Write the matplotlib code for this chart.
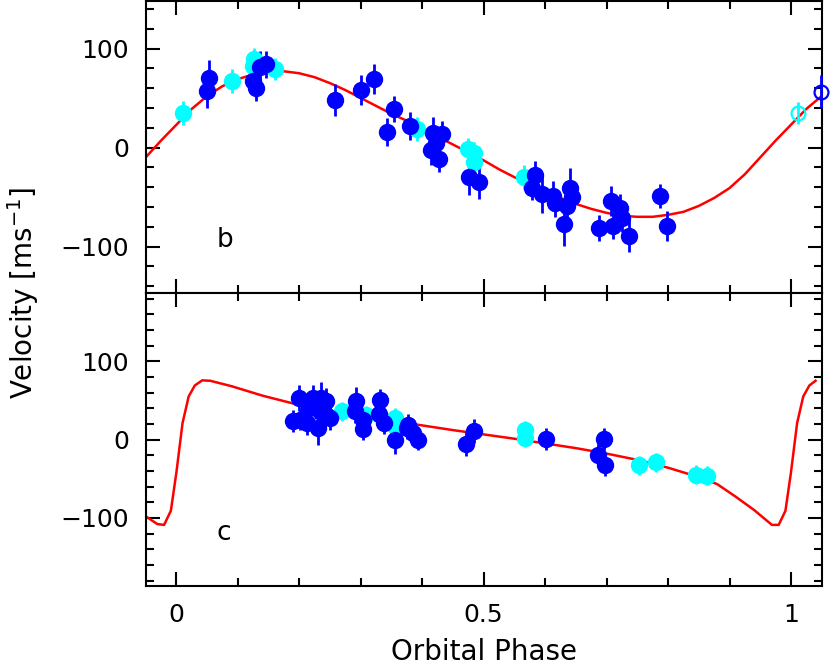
import matplotlib
matplotlib.use("Agg")
import matplotlib.pyplot as plt
from matplotlib.ticker import MultipleLocator

# =====================================================================
# DATA
# =====================================================================
# planet b: model curve
b_curve_phase = [-0.050, -0.025, 0.000, 0.025, 0.050, 0.075, 0.100, 0.125, 0.150, 0.175,
                 0.200, 0.225, 0.250, 0.275, 0.300, 0.325, 0.350, 0.375, 0.400, 0.425,
                 0.450, 0.475, 0.500, 0.525, 0.550, 0.575, 0.600, 0.625, 0.650, 0.675,
                 0.700, 0.725, 0.750, 0.775, 0.800, 0.825, 0.850, 0.875, 0.900, 0.925,
                 0.950, 0.975, 1.000, 1.025, 1.050]
b_curve_vel = [-10, 7, 23, 39, 52, 62, 69, 74, 76.5, 77,
               75, 71, 65, 58, 50, 42, 34, 27, 19, 11,
               3, -5, -13, -22, -30, -37, -44, -51, -57, -62,
               -66, -69, -70, -70, -68, -65, -59, -51, -41, -27,
               -10, 7, 23, 39, 52]

# planet b: data (blue = set 1, cyan = set 2)
b_blue_phase = [0.050, 0.053, 0.125, 0.129, 0.136, 0.146, 0.258, 0.301, 0.321, 0.343,
                0.354, 0.380, 0.415, 0.418, 0.423, 0.428, 0.432, 0.476, 0.493, 0.578,
                0.584, 0.595, 0.613, 0.616, 0.631, 0.635, 0.641, 0.643, 0.688, 0.707,
                0.711, 0.722, 0.725, 0.737, 0.787, 0.798]
b_blue_vel = [56.6, 70, 67, 60.6, 81, 84, 48, 58, 69, 16,
              39, 22, -3, 15, 5, -12, 14, -30, -35, -41,
              -28, -47, -49, -56, -77, -59, -41, -50, -81, -54,
              -79, -61, -71, -89, -49, -79]
b_blue_err = [17, 18, 13, 14, 16, 14, 16, 15, 15, 14,
              13, 14, 15, 16, 14, 13, 13, 18, 17, 12,
              14, 19, 15, 14, 22, 14, 20, 14, 13, 15,
              13, 14, 14, 17, 12, 15]

b_cyan_phase = [0.011, 0.091, 0.125, 0.126, 0.161, 0.391, 0.475, 0.484, 0.484, 0.566]
b_cyan_vel = [35, 67, 82, 89, 79, 18.5, -2, -6, -14.5, -30]
b_cyan_err = [12, 12, 12, 12, 11, 12, 12, 12, 12, 12]

# planet b: points repeated past phase 1 (open symbols)
b_rep_cyan = (1.011, 35, 11)
b_rep_blue = (1.049, 56.5, 17)

# planet c: model curve
c_curve_phase = [-0.050, -0.031, -0.020, -0.009, 0.000, 0.010, 0.020, 0.030, 0.042, 0.055,
                 0.090, 0.140, 0.190, 0.250, 0.300, 0.350, 0.400, 0.450, 0.500, 0.550,
                 0.600, 0.650, 0.700, 0.750, 0.800, 0.850, 0.880, 0.910, 0.940, 0.969,
                 0.980, 0.991, 1.000, 1.010, 1.020, 1.030, 1.040]
c_curve_vel = [-98, -108, -109, -91, -42, 21, 55, 69, 75.5, 75,
               68, 56, 46, 37, 30, 24, 18, 12, 6.5, 1,
               -5, -11, -18, -26, -36, -48, -57, -73, -90, -109,
               -109, -91, -42, 21, 55, 69, 75]

# planet c: data
c_blue_phase = [0.189, 0.199, 0.201, 0.212, 0.215, 0.2225, 0.227, 0.231, 0.233, 0.236,
                0.2415, 0.244, 0.250, 0.290, 0.293, 0.304, 0.304, 0.330, 0.331, 0.3376,
                0.3555, 0.3746, 0.377, 0.385, 0.3935, 0.471, 0.4847, 0.601, 0.6856, 0.696,
                0.6975]
c_blue_vel = [24, 53, 25.5, 21, 40, 53, 44, 15, 36, 53,
              32, 49, 28, 36, 49, 25.5, 14, 33, 50, 21,
              0, 15, 19, 8.5, 0, -6, 10.6, 1, -20, 1,
              -32]
c_blue_err = [14, 17, 14, 15, 16, 17, 18, 22, 16, 20,
              16, 17, 16, 15, 18, 14, 14, 14, 15, 14,
              18, 14, 14, 14, 14, 15, 15, 14, 14, 14,
              14]

c_cyan_phase = [0.2687, 0.308, 0.3555, 0.3555, 0.568, 0.568, 0.753, 0.780, 0.845, 0.863]
c_cyan_vel = [36, 31, 28, 17, 12, 2, -33, -29, -45, -46]
c_cyan_err = [12, 12, 12, 12, 12, 12, 12, 12, 12, 12]

BLUE = "#0000ff"
CYAN = "#00ffff"
RED = "#ff0000"

plt.rcParams['font.family'] = ['DejaVu Sans']

fig = plt.figure(figsize=(8.3, 6.71), dpi=100)
ax_b = fig.add_axes([0.1755, 0.5633, 0.8145, 0.4352])
ax_c = fig.add_axes([0.1755, 0.1267, 0.8145, 0.4366])


def style_axis(ax, ylim):
    ax.set_xlim(-0.05, 1.05)
    ax.set_ylim(*ylim)
    ax.xaxis.set_major_locator(MultipleLocator(0.5))
    ax.xaxis.set_minor_locator(MultipleLocator(0.1))
    ax.yaxis.set_major_locator(MultipleLocator(100))
    ax.yaxis.set_minor_locator(MultipleLocator(20))
    ax.tick_params(which='both', direction='in', top=True, right=True, width=1.5, labelsize=18)
    ax.tick_params(which='major', length=10)
    ax.tick_params(which='minor', length=5.5)
    ax.tick_params(axis='y', pad=12)
    ax.tick_params(axis='x', pad=12)
    for sp in ax.spines.values():
        sp.set_linewidth(1.5)


def draw_points(ax, ph, v, e, color):
    ax.errorbar(ph, v, yerr=e, fmt='o', ms=11.5, color=color, mec=color,
                ecolor=color, elinewidth=2, capsize=0, zorder=3)


# ---- top panel: b ----
style_axis(ax_b, (-147, 148))
ax_b.plot(b_curve_phase, b_curve_vel, color=RED, lw=1.8, zorder=2)
draw_points(ax_b, b_cyan_phase, b_cyan_vel, b_cyan_err, CYAN)
draw_points(ax_b, b_blue_phase, b_blue_vel, b_blue_err, BLUE)
for (ph, v, e), col in [(b_rep_cyan, CYAN), (b_rep_blue, BLUE)]:
    ax_b.errorbar([ph], [v], yerr=[e], fmt='o', ms=10, mfc='none', mec=col, mew=1.6,
                  ecolor=col, elinewidth=2, capsize=0, clip_on=False, zorder=3)
ax_b.tick_params(axis='x', labelbottom=False)
ax_b.text(0.065, -100, "b", fontsize=19, ha='left', va='baseline')

# ---- bottom panel: c ----
style_axis(ax_c, (-187, 187))
ax_c.plot(c_curve_phase, c_curve_vel, color=RED, lw=1.8, zorder=2)
draw_points(ax_c, c_cyan_phase, c_cyan_vel, c_cyan_err, CYAN)
draw_points(ax_c, c_blue_phase, c_blue_vel, c_blue_err, BLUE)
ax_c.text(0.065, -128, "c", fontsize=19, ha='left', va='baseline')
ax_c.set_xticks([0, 0.5, 1])
ax_c.set_xticklabels(["0", "0.5", "1"])

ax_c.set_xlabel("Orbital Phase", fontsize=20, labelpad=8)
fig.text(0.028, 0.563, r"Velocity [ms$^{-1}$]", rotation=90, fontsize=20,
         ha='center', va='center')

fig.savefig("out.png", dpi=100)
